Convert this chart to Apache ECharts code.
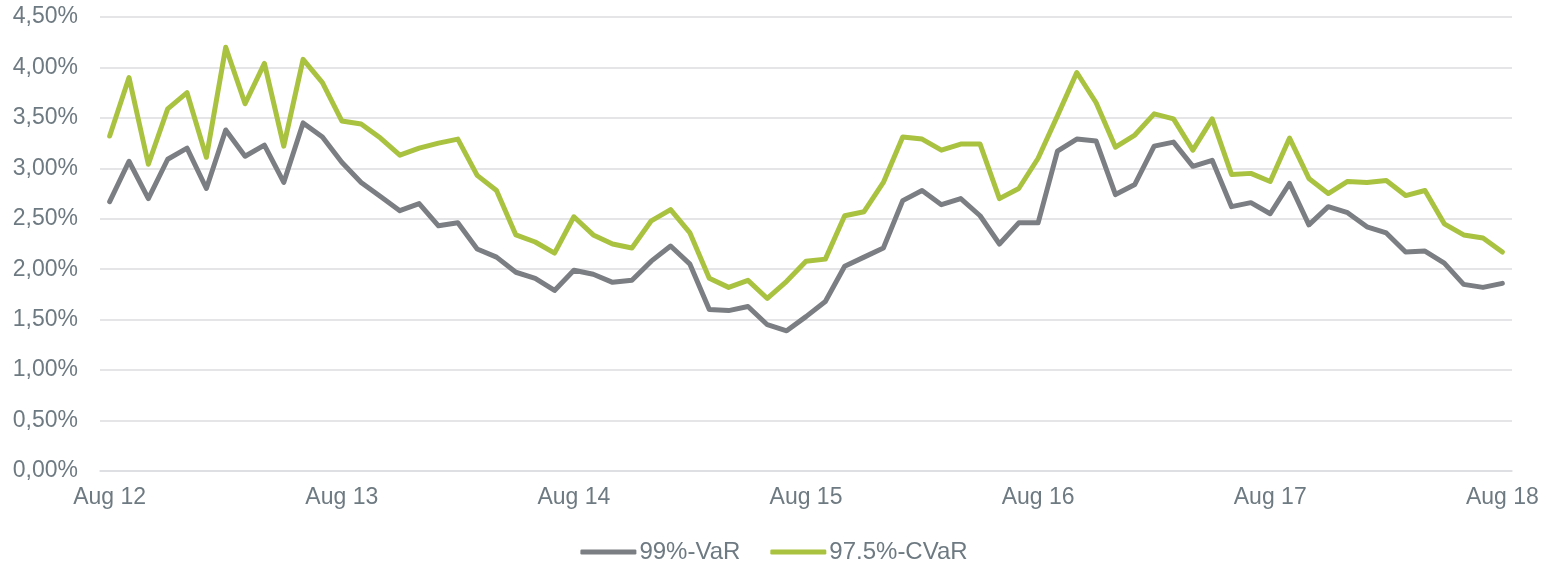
<!DOCTYPE html>
<html>
<head>
<meta charset="utf-8">
<script src="https://cdn.jsdelivr.net/npm/echarts@6/dist/echarts.min.js"></script>
<style>
  html, body { margin: 0; padding: 0; background: #fff; }
  #chart { width: 1548px; height: 563px; }
</style>
</head>
<body>
<div id="chart"></div>
<script>
// monthly points, Aug 12 .. Aug 18
const monthNames = ['Jan', 'Feb', 'Mar', 'Apr', 'May', 'Jun', 'Jul', 'Aug', 'Sep', 'Oct', 'Nov', 'Dec'];
const categories = [];
for (let k = 0; k <= 72; k++) {
  const m = (7 + k) % 12;
  const y = 12 + Math.floor((7 + k) / 12);
  categories.push(monthNames[m] + ' ' + y);
}

const seriesNames = ['99%-VaR', '97.5%-CVaR'];

const var99 = [
  2.67, 3.07, 2.70, 3.09, 3.20, 2.80, 3.38, 3.12, 3.23, 2.86, 3.45, 3.31,
  3.06, 2.86, 2.72, 2.58, 2.65, 2.43, 2.46, 2.20, 2.12, 1.97, 1.91, 1.79,
  1.99, 1.95, 1.87, 1.89, 2.08, 2.23, 2.05, 1.60, 1.59, 1.63, 1.45, 1.39,
  1.53, 1.68, 2.03, 2.12, 2.21, 2.68, 2.78, 2.64, 2.70, 2.53, 2.25, 2.46,
  2.46, 3.17, 3.29, 3.27, 2.74, 2.84, 3.22, 3.26, 3.02, 3.08, 2.62, 2.66,
  2.55, 2.85, 2.44, 2.62, 2.56, 2.42, 2.36, 2.17, 2.18, 2.06, 1.85, 1.82,
  1.86
];

const cvar975 = [
  3.32, 3.90, 3.04, 3.59, 3.75, 3.11, 4.20, 3.64, 4.04, 3.22, 4.08, 3.85,
  3.47, 3.44, 3.30, 3.13, 3.20, 3.25, 3.29, 2.93, 2.78, 2.34, 2.27, 2.16,
  2.52, 2.34, 2.25, 2.21, 2.48, 2.59, 2.36, 1.91, 1.82, 1.89, 1.71, 1.88,
  2.08, 2.10, 2.53, 2.57, 2.86, 3.31, 3.29, 3.18, 3.24, 3.24, 2.70, 2.80,
  3.10, 3.52, 3.95, 3.65, 3.21, 3.33, 3.54, 3.49, 3.18, 3.49, 2.94, 2.95,
  2.87, 3.30, 2.90, 2.75, 2.87, 2.86, 2.88, 2.73, 2.78, 2.45, 2.34, 2.31,
  2.17
];

const labelColor = '#6e7a81';
const gridColor = '#dcdde0';
const fontFamily = '"Liberation Sans", Arial, sans-serif';

const chart = echarts.init(document.getElementById('chart'));

const option = {
  animation: false,
  color: ['#7b7e82', '#a9c23f'],
  grid: { left: 100, right: 36, top: 17, bottom: 92, containLabel: false },
  legend: {
    data: seriesNames,
    left: 'center',
    top: 535,
    icon: 'roundRect',
    itemWidth: 56,
    itemHeight: 5,
    itemGap: 30,
    textStyle: { color: labelColor, fontSize: 24, fontFamily: fontFamily, padding: [0, 0, 0, -2] },
  },
  xAxis: {
    type: 'category',
    data: categories,
    boundaryGap: true,
    axisLine: { show: true, lineStyle: { color: gridColor, width: 1.5 } },
    axisTick: { show: false },
    axisLabel: {
      interval: 11,
      color: labelColor,
      fontSize: 23,
      fontFamily: fontFamily,
      margin: 15,
    },
    splitLine: { show: false },
  },
  yAxis: {
    type: 'value',
    min: 0,
    max: 4.5,
    interval: 0.5,
    axisLine: { show: false },
    axisTick: { show: false },
    axisLabel: {
      color: labelColor,
      fontSize: 23,
      fontFamily: fontFamily,
      margin: 22,
      formatter: v => v.toFixed(2).replace('.', ',') + '%',
    },
    splitLine: { lineStyle: { color: gridColor, width: 1.5 } },
  },
  series: [
    {
      name: seriesNames[0],
      type: 'line',
      data: var99,
      symbol: 'none',
      lineStyle: { width: 5, cap: 'round', join: 'round' },
    },
    {
      name: seriesNames[1],
      type: 'line',
      data: cvar975,
      symbol: 'none',
      lineStyle: { width: 5, cap: 'round', join: 'round' },
    },
  ],
};

chart.setOption(option);
</script>
</body>
</html>
